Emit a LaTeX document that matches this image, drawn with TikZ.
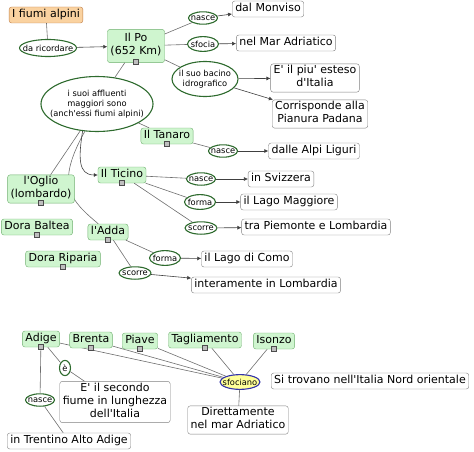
\documentclass[tikz,border=0pt]{standalone}
\usepackage{fontspec}
\setmainfont{DejaVu Sans}[Ligatures=TeXOff]
\usepackage{tikz}
\usetikzlibrary{arrows.meta,positioning,shapes.geometric,backgrounds}
\definecolor{conc}{HTML}{CFF5CF}
\definecolor{concd}{HTML}{6FAF6F}
\definecolor{rootc}{HTML}{FAD2A0}
\definecolor{rootd}{HTML}{C0804A}
\definecolor{lnk}{HTML}{2E6B2E}
\definecolor{wire}{HTML}{6E6E6E}
\definecolor{sfoc}{HTML}{FFFF99}
\definecolor{sfod}{HTML}{3333AA}

\begin{document}
\begin{tikzpicture}[x=1pt,y=-1pt,font=\fontsize{11}{13}\selectfont,
  t/.style={draw=gray,fill=white,rounded corners=2.5pt,inner xsep=3pt,inner ysep=1.5pt,align=center,
    execute at begin node=\strut,execute at end node=\strut},
  c/.style={t,draw=concd,fill=conc},
  r/.style={t,draw=rootd,fill=rootc},
  l/.style={ellipse,draw=lnk,line width=1.1pt,fill=white,inner xsep=-6pt,inner ysep=2pt,
    minimum width=29pt,minimum height=12pt,font=\fontsize{8.3}{10}\selectfont,align=center},
  ic/.style={draw=gray!60!black,fill=gray!50,minimum size=5pt,inner sep=0pt},
  w/.style={wire,line width=0.6pt},
  a/.style={w,black!75,-{Latex[length=4pt,width=4pt]}}]
\useasboundingbox (0,0) rectangle (474,452);
% Il Po
\node[r] (root) at (46,15) {I fiumi alpini};
\node[l,minimum width=57pt,minimum height=17pt] (ric) at (48,48) {da ricordare};
\node[c,inner ysep=4pt] (po) at (136,46) {Il Po\\(652 Km)};
\node[l] (po-n) at (203,18) {nasce};
\node[t] (monv) at (268,9) {dal Monviso};
\node[l,minimum width=31pt] (po-s) at (203,44) {sfocia};
\node[t] (adr) at (286,43) {nel Mar Adriatico};
\node[l,minimum width=66pt,minimum height=35pt] (bac) at (205,79) {il suo bacino\\idrografico};
\node[t] (est) at (315,78) {E' il piu' esteso\\d'Italia};
\node[t] (pad) at (320,114) {Corrisponde alla\\Pianura Padana};
\node[l,inner xsep=-8pt,inner ysep=4pt,minimum width=112pt,minimum height=55pt] (aff) at (97,104)
  {i suoi affluenti\\maggiori sono\\(anch'essi fiumi alpini)};
% affluenti
\node[c] (tan) at (167,136) {Il Tanaro};
\node[l] (tan-n) at (223,151) {nasce};
\node[t] (lig) at (314,151) {dalle Alpi Liguri};
\node[c] (tic) at (122,175) {Il Ticino};
\node[l] (tic-n) at (201,179) {nasce};
\node[l,minimum width=31pt] (tic-f) at (200,202) {forma};
\node[l,minimum width=32pt] (tic-s) at (201,228) {scorre};
\node[t] (svi) at (281,179) {in Svizzera};
\node[t] (mag) at (289,202) {il Lago Maggiore};
\node[t] (pie) at (316,227) {tra Piemonte e Lombardia};
\node[c] (ogl) at (41,189) {l'Oglio\\(lombardo)};
\node[c] (dba) at (37,227) {Dora Baltea};
\node[c] (dri) at (63,259) {Dora Riparia};
\node[c] (add) at (108,232) {l'Adda};
\node[l,minimum width=31pt] (add-f) at (165,258) {forma};
\node[l,minimum width=32pt] (add-s) at (135,273) {scorre};
\node[t] (com) at (247,259) {il Lago di Como};
\node[t] (lom) at (266,285) {interamente in Lombardia};
% Nord-est
\node[c] (adi) at (41,339) {Adige};
\node[c] (bre) at (91,340) {Brenta};
\node[c] (pia) at (140,341) {Piave};
\node[c] (tag) at (205,340) {Tagliamento};
\node[c] (iso) at (274,341) {Isonzo};
\node[l,draw=sfod,fill=sfoc,minimum width=40pt,minimum height=14pt] (sfo) at (240,382) {sfociano};
\node[t] (ne) at (370,381) {Si trovano nell'Italia Nord orientale};
\node[t] (dir) at (238,420) {Direttamente\\nel mar Adriatico};
\node[t] (sec) at (115,402) {E' il secondo\\fiume in lunghezza\\dell'Italia};
\node[t] (tre) at (69,441) {in Trentino Alto Adige};
\node[l,inner xsep=0pt,minimum width=11pt,minimum height=12pt] (adi-e) at (65,368) {è};
\node[l] (adi-n) at (40,400) {nasce};

\begin{scope}[on background layer]
\draw[w] (aff.-114) .. controls (55,185) and (70,200) .. (add);
\foreach \r in {adi,bre,pia,tag,iso} \draw[w] (\r) -- (sfo);
\end{scope}
\draw[w] (root) -- (ric);
\draw[a] (ric) -- (po);
\draw[w] (po) -- (po-n);
\draw[a] (po-n) -- (monv);
\draw[w] (po) -- (po-s);
\draw[a] (po-s) -- (adr);
\draw[w] (po) -- (bac);
\draw[a] (bac) -- (est);
\draw[a] (bac) -- (pad);
\draw[w] (po) -- (aff);
\draw[w] (aff) -- (tan);
\draw[w] (tan) -- (tan-n);
\draw[a] (tan-n) -- (lig);
\draw[w] (aff.-122) -- (ogl);
\draw[a] (aff.-118) .. controls +(-4,26) and +(-20,0) .. (tic.west);
\draw[w] (tic) -- (tic-n);
\draw[w] (tic) -- (tic-f);
\draw[w] (tic) -- (tic-s);
\draw[a] (tic-n) -- (svi);
\draw[a] (tic-f) -- (mag);
\draw[a] (tic-s) -- (pie);
\draw[w] (add) -- (add-f);
\draw[w] (add) -- (add-s);
\draw[a] (add-f) -- (com);
\draw[a] (add-s) -- (lom);
\draw[w] (adi) -- (adi-n);
\draw[w] (adi-n) -- (tre);
\draw[w] (adi) -- (adi-e);
\draw[w] (adi-e) -- (sec);
\draw[w] (sfo) -- (dir);
% icone
\foreach \r in {po,tan,tic,ogl,dba,dri,add,adi,bre,pia,tag,iso}
  \node[ic] (\r-i) at ([yshift=1pt]\r.south) {};
\end{tikzpicture}
\end{document}
